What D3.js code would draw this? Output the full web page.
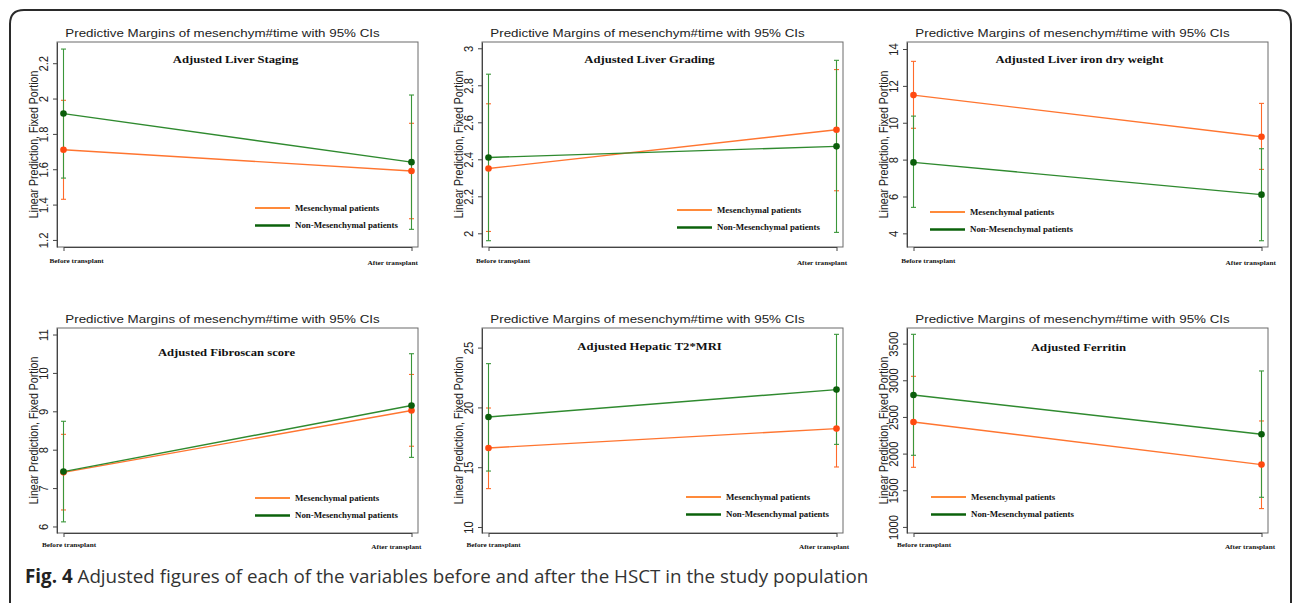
<!DOCTYPE html>
<html>
<head>
<meta charset="utf-8">
<script src="https://cdn.jsdelivr.net/npm/d3@7"></script>
<style>
  body { margin: 0; background: #fff; }
  svg { display: block; }
  .title { font-family: "Liberation Sans", Arial, sans-serif; font-size: 11.6px; fill: #222; }
  .ytitle { font-family: "Liberation Sans", Arial, sans-serif; font-size: 10.6px; fill: #222; }
  .tick text { font-family: "Liberation Sans", Arial, sans-serif; font-size: 11.3px; fill: #222; }
  .subtitle { font-family: "Liberation Serif", "Times New Roman", serif; font-size: 11px; font-weight: bold; fill: #111; }
  .legend { font-family: "Liberation Serif", "Times New Roman", serif; font-size: 7.7px; font-weight: bold; fill: #111; }
  .xlabel { font-family: "Liberation Serif", "Times New Roman", serif; font-size: 6.3px; font-weight: bold; fill: #111; }
  .caption { font-family: "Open Sans", "Noto Sans", sans-serif; font-size: 18.8px; fill: #333; }
</style>
</head>
<body>
<script>
// ============================================================
// Predictive margins (mesenchym#time) - six small panels
// ============================================================

// Data
var timeLabels = ["Before transplant", "After transplant"];
var seriesNames = ["Mesenchymal patients", "Non-Mesenchymal patients"];
var panelTitles = ["Adjusted Liver Staging", "Adjusted Liver Grading", "Adjusted Liver iron dry weight",
                   "Adjusted Fibroscan score", "Adjusted Hepatic T2*MRI", "Adjusted Ferritin"];

// [before, after] per panel
var mesMargin = [[1.71, 1.59], [2.35, 2.56], [11.50, 9.24], [7.41, 9.02], [16.61, 18.23], [2431, 1850]];
var mesLower  = [[1.43, 1.32], [2.01, 2.23], [9.70, 7.47],  [6.43, 8.09], [13.21, 15.02], [1813, 1250]];
var mesUpper  = [[1.99, 1.86], [2.70, 2.885], [13.33, 11.05], [8.40, 9.96], [19.95, 21.45], [3054, 2445]];
var nonMargin = [[1.915, 1.64], [2.41, 2.47], [7.85, 6.10], [7.43, 9.15], [19.20, 21.49], [2800, 2263]];
var nonLower  = [[1.55, 1.26], [1.96, 2.005], [5.41, 3.60], [6.12, 7.80], [14.68, 16.91], [1977, 1404]];
var nonUpper  = [[2.28, 2.02], [2.86, 2.935], [10.36, 8.59], [8.74, 10.50], [23.66, 26.11], [3627, 3127]];

var yDomains = [[1.16, 2.32], [1.926, 3.034], [3.26, 14.38], [5.83, 11.17], [9.5, 26.64], [917, 3713]];
var yTickValues = [[1.2, 1.4, 1.6, 1.8, 2, 2.2], [2, 2.2, 2.4, 2.6, 2.8, 3], [4, 6, 8, 10, 12, 14],
                   [6, 7, 8, 9, 10, 11], [10, 15, 20, 25], [1000, 1500, 2000, 2500, 3000, 3500]];

// Layout
var W = 1292, H = 603;
var SX = 1.15;              // source image is stretched horizontally
var colLeft = [57, 482, 907];
var rowTop = [42, 328];
var plotW = 361, plotH = 205;
var subDx = [-2, -13, -8, -11, -13, -9];
var subDy = [20.5, 21, 20.5, 28, 21.5, 23];
var legendPos = [[198, 166], [195, 168], [23, 170], [198, 170], [204, 169], [24, 169]];
var beforeDx = [-14, -12.6, -12.3, -21.6, -22, -16.6];
var afterDx = [6.3, 10.6, 14.3, 10, 12.7, 13.6];
var xlabDy = [[16, 17.5], [14, 15.5]];

var orange = { line: "#ff7530", ci: "#ff6a2a", dot: "#ff4a10", legend: "#ff8a3a" };
var green = { line: "#2f8a2f", ci: "#3a963a", dot: "#0b5e0b", legend: "#0b620b" };

var svg = d3.select("body").append("svg")
    .attr("width", W)
    .attr("height", H);

// page frame (rounded, open at the bottom)
svg.append("path")
    .attr("d", "M10," + H + " L10,24 Q10,10 24,10 L1278,10 Q1291,10 1291,24 L1291," + H)
    .attr("fill", "none")
    .attr("stroke", "#2a2a2a")
    .attr("stroke-width", 2);

function hText(sel, x, y, txt, cls, anchor) {
    return sel.append("text")
        .attr("class", cls)
        .attr("transform", "translate(" + x + "," + y + ") scale(" + SX + ",1)")
        .attr("text-anchor", anchor || "start")
        .text(txt);
}

function drawPanel(p) {
    var row = Math.floor(p / 3), col = p % 3;
    var g = svg.append("g")
        .attr("transform", "translate(" + colLeft[col] + "," + rowTop[row] + ")");

    var x = d3.scalePoint().domain(timeLabels).range([6.5, plotW - 6.5]);
    var y = d3.scaleLinear().domain(yDomains[p]).range([plotH, 0]);

    // title
    hText(g, plotW / 2 - 15, -5, "Predictive Margins of mesenchym#time with 95% CIs", "title", "middle");

    // plot frame
    g.append("rect")
        .attr("width", plotW)
        .attr("height", plotH)
        .attr("fill", "none")
        .attr("stroke", "#6a6a6a")
        .attr("stroke-width", 1);

    // y axis
    var yAxis = g.append("g")
        .call(d3.axisLeft(y).tickValues(yTickValues[p]).tickSize(4).tickSizeOuter(0)
            .tickFormat(d3.format("")));
    yAxis.select(".domain").attr("stroke", "#444");
    yAxis.selectAll(".tick line").attr("stroke", "#444");
    yAxis.selectAll(".tick text")
        .attr("x", null).attr("dy", null)
        .attr("text-anchor", "middle")
        .attr("transform", "translate(-9,0) scale(" + SX + ",1) rotate(-90)");

    // y title
    g.append("text")
        .attr("class", "ytitle")
        .attr("text-anchor", "middle")
        .attr("transform", "translate(-19," + (plotH / 2) + ") scale(" + SX + ",1) rotate(-90)")
        .text("Linear Prediction, Fixed Portion");

    // x axis (ticks only, labels placed by hand)
    var xAxis = g.append("g")
        .attr("transform", "translate(0," + plotH + ")")
        .call(d3.axisBottom(x).tickSize(4).tickSizeOuter(0).tickFormat(""));
    xAxis.select(".domain").attr("stroke", "#444");
    xAxis.selectAll(".tick line").attr("stroke", "#444");

    hText(g, x(timeLabels[0]) + beforeDx[p], plotH + xlabDy[row][0], timeLabels[0], "xlabel", "start");
    hText(g, x(timeLabels[1]) + afterDx[p], plotH + xlabDy[row][1], timeLabels[1], "xlabel", "end");

    // subtitle
    hText(g, plotW / 2 + subDx[p], subDy[p], panelTitles[p], "subtitle", "middle");

    var series = [
        { mid: mesMargin[p], lo: mesLower[p], hi: mesUpper[p], c: orange },
        { mid: nonMargin[p], lo: nonLower[p], hi: nonUpper[p], c: green }
    ];

    // confidence intervals
    series.forEach(function(s) {
        timeLabels.forEach(function(t, i) {
            var cx = x(t);
            g.append("line")
                .attr("x1", cx).attr("x2", cx)
                .attr("y1", y(s.lo[i])).attr("y2", y(s.hi[i]))
                .attr("stroke", s.c.ci).attr("stroke-width", 1.1);
            [s.lo[i], s.hi[i]].forEach(function(v) {
                g.append("line")
                    .attr("x1", cx - 2.5).attr("x2", cx + 2.5)
                    .attr("y1", y(v)).attr("y2", y(v))
                    .attr("stroke", s.c.ci).attr("stroke-width", 1.1);
            });
        });
    });

    // connecting lines + markers
    var line = d3.line()
        .x(function(d, i) { return x(timeLabels[i]); })
        .y(function(d) { return y(d); });

    series.forEach(function(s) {
        g.append("path")
            .attr("d", line(s.mid))
            .attr("fill", "none")
            .attr("stroke", s.c.line)
            .attr("stroke-width", 1.4);
    });
    series.forEach(function(s) {
        s.mid.forEach(function(v, i) {
            g.append("circle")
                .attr("cx", x(timeLabels[i]))
                .attr("cy", y(v))
                .attr("r", 3.3)
                .attr("fill", s.c.dot);
        });
    });

    // legend
    var lg = g.append("g").attr("transform", "translate(" + legendPos[p][0] + "," + legendPos[p][1] + ")");
    series.forEach(function(s, i) {
        var ly = i * 17.5;
        lg.append("line")
            .attr("x1", 0).attr("x2", 35)
            .attr("y1", ly).attr("y2", ly)
            .attr("stroke", s.c.legend)
            .attr("stroke-width", i === 0 ? 2 : 2.4);
        hText(lg, 40, ly + 2.6, seriesNames[i], "legend", "start");
    });
}

for (var p = 0; p < 6; p++) drawPanel(p);

// figure caption
var cap = svg.append("text")
    .attr("class", "caption")
    .attr("x", 25)
    .attr("y", 583);
cap.append("tspan").attr("font-weight", "bold").attr("fill", "#222").text("Fig. 4");
cap.append("tspan").text(" Adjusted figures of each of the variables before and after the HSCT in the study population");
</script>
</body>
</html>
